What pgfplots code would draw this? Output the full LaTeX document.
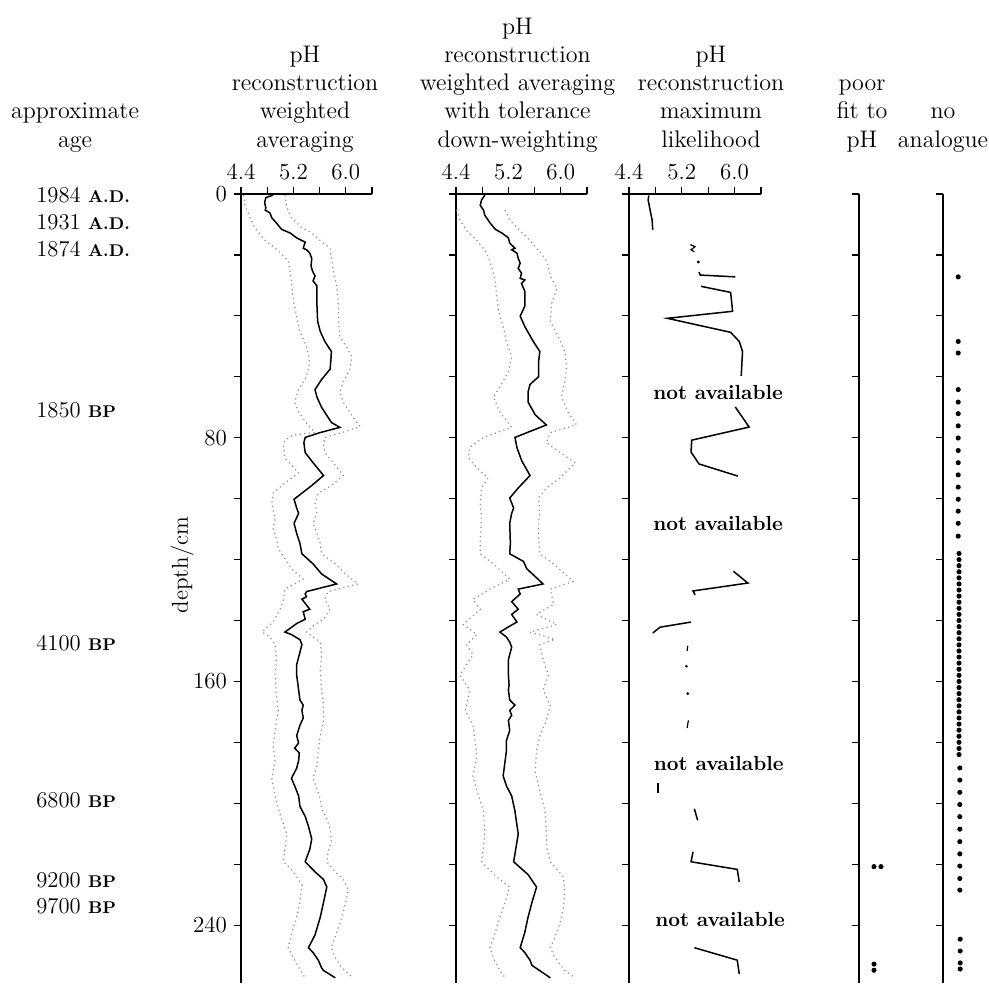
\documentclass[border=0pt]{standalone}
\usepackage{pgfplots}
\pgfplotsset{compat=1.18}
\pgfplotsset{
  phpanel/.style={
    scale only axis, width=65.5pt, height=394.5pt,
    xmin=4.4, xmax=6.4, ymin=0, ymax=259, y dir=reverse,
    axis x line*=top, axis y line*=left,
    xtick={4.4,4.8,5.2,5.6,6.0,6.4}, xticklabels={4.4,,5.2,,6.0,},
    ytick={0,20,...,240}, yticklabels={},
    tick align=outside, xtick align=outside, ytick align=outside,
    major tick length=3.5pt,
    axis line style={line width=0.8pt},
    every tick/.style={black, line width=0.6pt},
    ticklabel style={font=\fontsize{11.5}{13}\selectfont},
    clip=false, anchor=north west,
  },
  dotpanel/.style={
    scale only axis, width=20pt, height=394.5pt,
    xmin=0, xmax=1, ymin=0, ymax=259, y dir=reverse,
    axis y line*=left, axis x line=none,
    xtick=\empty, ytick={0,20,...,240}, yticklabels={},
    tick align=outside, ytick align=outside, major tick length=3.5pt,
    axis line style={line width=0.8pt},
    every tick/.style={black, line width=0.6pt},
    clip=false, anchor=north west,
  },
  solidl/.style={black, line width=0.75pt},
  dotl/.style={black!45, line width=0.6pt, dash pattern=on 0.6pt off 1.7pt},
}
\begin{document}
\begin{tikzpicture}
\path[use as bounding box] (0,0) rectangle (494.5pt,-492.5pt);

% ---------------- titles ----------------
\begin{scope}[every node/.style={anchor=base, inner sep=0pt, font=\fontsize{12}{14}\selectfont}]
\node at (37.5pt,-59.25pt) {approximate};
\node at (37.5pt,-73.5pt) {age};
\node at (152.5pt,-31pt) {pH};
\node at (152.5pt,-45.25pt) {reconstruction};
\node at (152.5pt,-59.25pt) {weighted};
\node at (152.5pt,-73.5pt) {averaging};
\node at (258.75pt,-17pt) {pH};
\node at (258.75pt,-31pt) {reconstruction};
\node at (258.75pt,-45.25pt) {weighted averaging};
\node at (258.75pt,-59.25pt) {with tolerance};
\node at (258.75pt,-73.5pt) {down-weighting};
\node at (355.5pt,-31pt) {pH};
\node at (355.5pt,-45.25pt) {reconstruction};
\node at (355.5pt,-59.25pt) {maximum};
\node at (355.5pt,-73.5pt) {likelihood};
\node at (431pt,-45.25pt) {poor};
\node at (431pt,-59.25pt) {fit to};
\node at (431pt,-73.5pt) {pH};
\node at (471.5pt,-59.25pt) {no};
\node at (471.5pt,-73.5pt) {analogue};
\end{scope}

% ---------------- ages ----------------
\begin{scope}[every node/.style={anchor=west, inner sep=0pt, font=\fontsize{11.3}{13}\selectfont}]
\newcommand{\AD}{{\fontsize{8.5}{10}\selectfont\bfseries A.D.}}
\newcommand{\BP}{{\fontsize{8.5}{10}\selectfont\bfseries BP}}
\node at (18pt,-97.5pt) {1984 \AD};
\node at (18pt,-111pt) {1931 \AD};
\node at (18pt,-124.5pt) {1874 \AD};
\node at (18pt,-205pt) {1850 \BP};
\node at (18pt,-321.5pt) {4100 \BP};
\node at (18pt,-400pt) {6800 \BP};
\node at (18pt,-440pt) {9200 \BP};
\node at (18pt,-453pt) {9700 \BP};
\end{scope}
\node[rotate=90, font=\fontsize{11.5}{13}\selectfont] at (91pt,-282.5pt) {depth/cm};

% ---------------- panel 1: weighted averaging ----------------
\begin{axis}[phpanel, at={(120.5pt,-97pt)}, yticklabels={0,,,,80,,,,160,,,,240}]
\addplot[dotl] coordinates {
(4.44,0.35)(4.46,3.7)(4.54,7.8)(4.61,11.1)(4.77,15.3)(4.97,18.6)(5.12,21.9)(5.15,25.2)
(5.17,28.5)(5.20,35.2)(5.25,40.1)(5.30,45.1)(5.40,50.1)(5.45,55.1)(5.40,60.0)(5.28,64.2)
(5.22,68.3)(5.28,71.6)(5.45,76.6)(5.53,78.3)(5.20,79.1)(5.07,80.8)(5.05,83.2)(5.07,86.6)
(5.17,89.0)(5.28,91.5)(5.07,94.9)(4.89,98.2)(4.87,101.5)(4.92,106.5)(4.89,109.8)(4.94,113.1)
(4.97,116.4)(5.07,119.7)(5.17,123.0)(5.35,126.4)(5.07,129.7)(5.05,133.0)(5.00,136.3)(4.89,140.5)
(4.72,143.8)(4.84,145.4)(4.92,147.9)(4.94,152.9)(4.92,157.9)(4.94,164.5)(4.97,169.5)(4.92,176.1)
(4.89,181.1)(4.92,186.0)(4.87,191.8)(4.92,197.6)(4.97,201.8)(5.02,205.1)(5.10,210.1)(5.07,215.1)
(5.05,219.2)(5.20,222.5)(5.33,226.7)(5.30,232.5)(5.25,237.4)(5.17,243.2)(5.12,247.4)(5.22,251.5)
(5.33,255.7)(5.38,257.3)};
\addplot[dotl] coordinates {
(5.07,0.35)(5.10,4.5)(5.17,7.8)(5.33,11.1)(5.48,12.8)(5.61,15.3)(5.76,17.8)(5.78,21.1)
(5.81,25.2)(5.86,30.2)(5.89,36.8)(5.89,41.8)(5.91,46.8)(6.01,50.1)(6.09,53.4)(6.06,57.5)
(5.96,61.7)(5.91,65.0)(5.96,68.3)(6.11,73.3)(6.22,76.3)(5.94,78.3)(5.68,79.9)(5.66,82.4)
(5.68,84.9)(5.81,88.2)(5.96,92.4)(5.78,95.7)(5.58,98.2)(5.53,101.5)(5.56,104.8)(5.50,108.1)
(5.56,111.4)(5.61,114.7)(5.63,118.1)(5.84,121.4)(5.99,124.7)(6.19,128.0)(5.73,130.5)(5.68,133.0)
(5.76,136.3)(5.66,139.6)(5.53,141.3)(5.40,143.8)(5.50,145.4)(5.61,147.1)(5.63,151.2)(5.61,156.2)
(5.63,162.8)(5.66,167.8)(5.66,172.8)(5.61,177.8)(5.58,182.7)(5.56,187.7)(5.50,191.8)(5.56,195.2)
(5.61,198.5)(5.63,201.8)(5.71,205.1)(5.76,208.4)(5.78,212.6)(5.73,215.9)(5.71,219.2)(5.84,222.5)
(5.96,225.0)(6.04,228.3)(5.99,233.3)(5.94,237.4)(5.86,242.4)(5.78,247.4)(5.84,250.7)(5.94,254.0)
(6.11,257.3)};
\addplot[solidl] coordinates {
(4.89,0.35)(4.78,1.18)(4.76,2.84)(4.78,4.5)(4.77,5.3)(4.84,6.15)(4.87,7.8)(4.94,9.5)
(5.02,11.6)(5.15,12.8)(5.25,14.4)(5.38,15.8)(5.35,17.8)(5.40,18.3)(5.45,19.4)(5.48,21.1)
(5.47,23.6)(5.49,25.2)(5.53,26.9)(5.50,28.5)(5.56,30.2)(5.56,31.9)(5.56,36.8)(5.57,41.8)
(5.61,45.1)(5.68,48.4)(5.78,51.7)(5.77,55.1)(5.76,57.5)(5.63,60.9)(5.53,64.2)(5.56,66.7)
(5.63,70.0)(5.78,75.0)(5.91,76.6)(5.61,78.3)(5.38,79.9)(5.36,81.6)(5.38,84.9)(5.50,88.2)
(5.66,92.4)(5.48,95.7)(5.33,98.2)(5.21,100.2)(5.25,103.1)(5.28,104.8)(5.21,108.1)(5.25,111.4)
(5.30,114.7)(5.33,118.1)(5.50,121.4)(5.63,124.7)(5.86,128.0)(5.40,130.5)(5.38,131.3)(5.40,132.2)
(5.33,133.0)(5.45,136.3)(5.35,137.1)(5.38,139.6)(5.25,141.0)(5.07,143.8)(5.17,144.6)(5.30,146.3)
(5.33,147.9)(5.30,150.4)(5.25,154.5)(5.25,157.9)(5.28,162.8)(5.30,166.1)(5.35,167.8)(5.33,169.5)
(5.35,172.0)(5.30,174.4)(5.25,177.8)(5.28,180.2)(5.22,181.9)(5.29,183.5)(5.28,186.0)(5.25,188.5)
(5.17,191.8)(5.22,194.3)(5.28,197.6)(5.30,201.0)(5.38,204.3)(5.43,207.6)(5.48,211.7)(5.45,215.1)
(5.38,219.2)(5.53,222.5)(5.66,225.0)(5.71,227.5)(5.66,232.5)(5.61,237.4)(5.53,243.2)(5.43,247.4)
(5.50,249.0)(5.58,251.5)(5.63,254.0)(5.66,254.9)(5.84,257.3)};
\end{axis}

% ---------------- panel 2: WA with tolerance down-weighting ----------------
\begin{axis}[phpanel, at={(228pt,-97pt)}]
\addplot[dotl] coordinates {
(4.41,5.3)(4.46,8.6)(4.56,12.0)(4.72,15.3)(4.87,19.4)(4.94,23.6)(5.00,28.5)(5.02,33.5)
(5.05,38.5)(5.12,43.5)(5.17,48.4)(5.25,53.4)(5.20,58.4)(5.07,63.3)(4.97,66.7)(5.07,71.6)
(5.25,76.6)(4.82,79.9)(4.61,83.2)(4.59,86.6)(4.72,89.9)(4.89,93.2)(4.79,96.5)(4.77,101.5)
(4.79,106.5)(4.77,113.1)(4.77,118.1)(4.97,121.4)(5.22,126.4)(4.92,129.7)(4.66,133.0)(4.77,136.3)
(4.51,141.3)(4.72,144.6)(4.56,147.9)(4.66,151.2)(4.46,157.9)(4.61,162.8)(4.54,169.5)(4.66,174.4)
(4.69,179.4)(4.72,184.4)(4.66,191.0)(4.72,196.0)(4.82,202.6)(4.84,209.3)(4.82,214.2)(4.79,219.2)
(5.02,224.2)(5.22,227.5)(5.15,232.5)(5.07,237.4)(5.00,242.4)(4.92,247.4)(4.97,250.7)(5.07,254.9)
(5.15,257.3)};
\addplot[dotl] coordinates {
(5.15,5.3)(5.22,8.6)(5.38,12.0)(5.53,15.3)(5.66,18.6)(5.76,21.1)(5.81,23.6)(5.84,26.9)
(5.94,31.0)(5.86,36.0)(5.84,41.8)(5.96,46.8)(6.06,51.7)(6.09,56.7)(6.06,61.7)(6.01,66.7)
(6.11,71.6)(6.24,75.8)(5.84,78.3)(5.78,81.6)(5.99,84.9)(6.22,88.2)(5.99,93.2)(5.78,96.5)
(5.66,99.8)(5.68,104.8)(5.66,108.1)(5.66,113.1)(5.68,118.1)(5.89,121.4)(6.19,127.2)(5.84,129.7)
(5.89,134.7)(5.63,138.0)(5.94,141.3)(5.53,143.8)(5.91,146.2)(5.68,147.9)(5.73,152.9)(5.81,157.9)
(5.73,162.8)(5.84,167.8)(5.78,172.8)(5.68,177.8)(5.63,182.7)(5.61,189.4)(5.68,196.0)(5.76,202.6)
(5.78,209.3)(5.78,214.2)(5.84,219.2)(6.04,224.2)(6.06,229.1)(6.04,234.1)(5.99,239.1)(5.91,244.1)
(5.84,247.4)(5.91,250.7)(6.06,254.9)(6.22,257.3)};
\addplot[solidl] coordinates {
(4.84,0.35)(4.79,2.0)(4.77,3.7)(4.82,5.3)(4.84,7.0)(4.92,9.5)(5.00,11.6)(5.10,12.8)
(5.20,14.4)(5.22,16.1)(5.30,17.8)(5.25,18.3)(5.33,19.4)(5.35,21.1)(5.38,22.7)(5.35,24.4)
(5.40,26.0)(5.38,27.7)(5.45,28.2)(5.40,29.4)(5.45,31.9)(5.45,36.8)(5.38,40.1)(5.45,43.5)
(5.58,48.4)(5.68,51.7)(5.66,55.1)(5.66,60.0)(5.53,62.5)(5.50,65.0)(5.50,68.3)(5.61,72.5)
(5.78,75.8)(5.30,79.9)(5.33,83.2)(5.40,87.4)(5.53,92.4)(5.35,96.5)(5.22,99.8)(5.28,103.1)
(5.25,104.8)(5.22,108.1)(5.23,114.7)(5.22,118.1)(5.43,120.6)(5.48,123.0)(5.73,128.0)(5.35,129.7)
(5.38,131.3)(5.25,133.8)(5.35,136.3)(5.25,138.0)(5.33,140.5)(5.20,142.1)(5.07,143.8)(5.17,145.4)
(5.22,147.1)(5.25,148.7)(5.20,152.9)(5.20,157.9)(5.21,161.2)(5.20,162.8)(5.22,166.1)(5.30,167.8)
(5.22,169.5)(5.25,171.1)(5.20,172.8)(5.22,176.1)(5.17,179.4)(5.17,182.7)(5.12,191.0)(5.17,194.3)
(5.25,197.6)(5.30,202.6)(5.35,210.1)(5.28,219.2)(5.50,223.4)(5.63,227.5)(5.56,232.5)(5.50,237.4)
(5.45,242.4)(5.38,247.4)(5.45,249.0)(5.53,251.5)(5.56,253.2)(5.84,257.3)};
\end{axis}

% ---------------- panel 3: maximum likelihood ----------------
\begin{axis}[phpanel, at={(314.5pt,-97pt)}, width=66pt]
\addplot[solidl] coordinates {(4.70,0.5)(4.69,2.0)(4.72,5.3)(4.75,8.5)(4.76,11.8)};
\addplot[solidl, line width=0.6pt] coordinates {(5.33,16.6)(5.40,17.3)(5.34,18.3)(5.39,19.0)};
\addplot[only marks, mark=*, mark size=0.5pt] coordinates {(5.45,22.3)};
\addplot[solidl] coordinates {(5.46,25.6)(5.48,26.6)(6.01,27.2)};
\addplot[solidl] coordinates {(5.49,30.3)(5.94,32.3)(5.97,38.5)(4.98,40.8)(5.94,45.4)(6.07,48.4)(6.12,51.7)(6.10,59.7)};
\addplot[solidl] coordinates {(6.01,69.9)(6.22,76.5)(5.35,80.8)(5.34,84.7)(5.46,88.6)(6.05,92.6)};
\addplot[solidl] coordinates {(5.98,123.8)(6.20,127.7)(5.37,130.3)(5.40,131.6)};
\addplot[solidl] coordinates {(5.34,140.5)(4.87,142.2)(4.76,144.1)};
\addplot[solidl, line width=0.6pt] coordinates {(5.29,148.3)(5.28,150.0)};
\addplot[only marks, mark=*, mark size=0.45pt] coordinates {(5.27,155.0)(5.29,164.0)};
\addplot[solidl, line width=0.6pt] coordinates {(5.30,172.8)(5.28,175.3)};
\addplot[solidl] coordinates {(4.84,193.5)(4.84,196.5)};
\addplot[solidl] coordinates {(5.39,201.8)(5.44,205.6)};
\addplot[solidl] coordinates {(5.37,215.9)(5.34,219.2)(6.04,221.7)(6.07,225.8)};
\addplot[solidl] coordinates {(5.39,247.4)(6.04,251.5)(6.07,256.0)};
\begin{scope}[every node/.style={font=\bfseries\fontsize{10.2}{12}\selectfont, inner sep=0pt}]
\node at (axis cs:5.75,65.3) {not available};
\node at (axis cs:5.75,108) {not available};
\node at (axis cs:5.76,186.8) {not available};
\node at (axis cs:5.78,238.3) {not available};
\end{scope}
\end{axis}

% ---------------- panel 4: poor fit to pH ----------------
\begin{axis}[dotpanel, at={(429.5pt,-97pt)}]
\addplot[only marks, mark=*, mark size=1.05pt, black] coordinates {
(0.375,220.8)(0.55,220.8)(0.375,252.8)(0.375,254.8)};
\end{axis}

% ---------------- panel 5: no analogue ----------------
\begin{axis}[dotpanel, at={(471.5pt,-97pt)}]
\addplot[only marks, mark=*, mark size=1.05pt, black] coordinates {
(0.38,27.2)(0.38,48.4)(0.38,52.2)(0.38,64.2)(0.38,68.3)(0.38,72.1)(0.38,76.1)(0.38,80.1)
(0.38,84.2)(0.38,88.2)(0.38,92.2)(0.38,96.2)(0.38,100.2)(0.38,104.1)(0.38,108.1)(0.38,112.3)
(0.40,118)(0.40,120)(0.40,122)(0.40,124)(0.40,126)(0.40,128)(0.40,130)(0.40,132)(0.40,134)
(0.40,136)(0.40,138)(0.40,140)(0.40,142)(0.40,144)(0.40,146)(0.40,148)(0.40,150)(0.40,152)
(0.40,154)(0.40,156)(0.40,158)(0.40,160)(0.40,162)(0.40,164)(0.40,166)(0.40,168)(0.40,170)
(0.40,172)(0.40,174)(0.40,176)(0.40,178)(0.40,180)(0.40,182)(0.40,184)
(0.42,188.4)(0.42,192.4)(0.42,196.4)(0.42,200.4)(0.42,204.4)(0.42,208.5)(0.42,212.6)(0.42,216.6)
(0.42,220.6)(0.42,224.7)(0.42,228.5)(0.43,244.6)(0.43,248.5)(0.43,252.4)(0.43,254.4)};
\end{axis}
\end{tikzpicture}
\end{document}
